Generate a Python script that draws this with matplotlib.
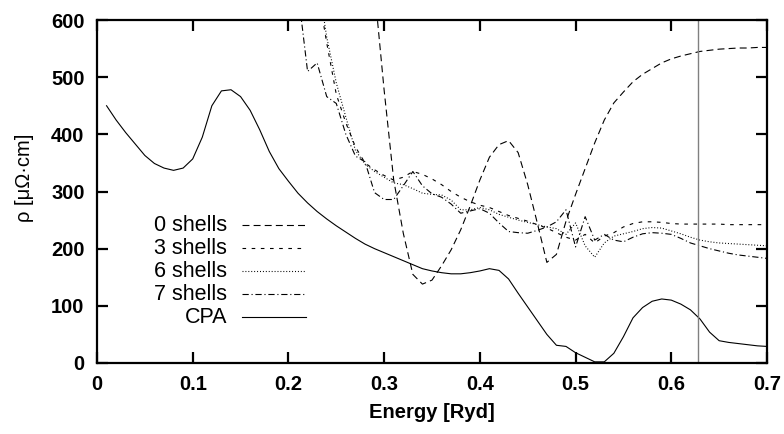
import numpy as np
import matplotlib.pyplot as plt

plt.rcParams['font.family'] = ['Liberation Sans', 'DejaVu Sans']
plt.rcParams['lines.scale_dashes'] = False

# energia en Ryd, paso de 0.01
e_cpa = np.round(np.arange(0.01, 0.705, 0.01), 2)
rho_cpa = [450, 425, 403, 383, 363, 349, 341, 337, 341, 357,
           395, 450, 476, 478, 466, 442, 408, 370, 340, 318,
           297, 280, 265, 252, 240, 229, 218, 208, 200, 193,
           186, 179, 172, 165, 161, 158, 156, 156, 158, 161,
           165, 162, 147, 122, 98, 74, 50, 31, 29, 18,
           10, 2, 2, 17, 46, 79, 97, 108, 112, 110,
           103, 93, 77, 54, 39, 36, 34, 32, 30, 29]

e_0 = np.round(np.arange(0.29, 0.705, 0.01), 2)
rho_0 = [653, 477, 320, 227, 155, 138, 145, 170, 198, 233,
         275, 320, 360, 382, 389, 368, 312, 245, 176, 190,
         248, 295, 340, 385, 425, 455, 474, 492, 505, 515,
         525, 532, 537, 541, 545, 547, 549, 550, 551, 551,
         552, 552]

e_3 = np.round(np.arange(0.23, 0.705, 0.01), 2)
rho_3 = [660, 560, 470, 420, 378, 350, 338, 328, 320, 325,
         335, 330, 322, 312, 300, 290, 282, 276, 272, 265,
         258, 253, 248, 242, 236, 228, 220, 215, 225, 210,
         222, 228, 238, 244, 247, 247, 246, 244, 243, 243,
         243, 243, 243, 242, 242, 242, 242, 242]

e_6 = np.round(np.arange(0.23, 0.705, 0.01), 2)
rho_6 = [680, 570, 490, 430, 372, 348, 335, 325, 315, 312,
         305, 297, 295, 294, 285, 268, 268, 272, 268, 260,
         255, 250, 246, 242, 238, 235, 225, 245, 205, 185,
         210, 222, 226, 230, 235, 237, 236, 231, 226, 220,
         215, 212, 210, 209, 208, 207, 206, 205]

e_7 = np.round(np.arange(0.21, 0.705, 0.01), 2)
rho_7 = [650, 510, 525, 466, 454, 400, 362, 352, 298, 286,
         286, 310, 335, 310, 296, 290, 278, 262, 266, 270,
         262, 245, 230, 228, 227, 232, 238, 247, 268, 203,
         256, 215, 225, 215, 212, 220, 226, 228, 227, 225,
         218, 210, 205, 200, 196, 192, 189, 187, 185, 183]

e_fermi = 0.628

series = [("0 shells", e_0, rho_0, (0, (5, 3))),
          ("3 shells", e_3, rho_3, (0, (2.6, 4))),
          ("6 shells", e_6, rho_6, (0, (0.7, 1.4))),
          ("7 shells", e_7, rho_7, (0, (4.5, 2, 0.8, 2))),
          ("CPA", e_cpa, rho_cpa, '-')]

x_ticks = [0, 0.1, 0.2, 0.3, 0.4, 0.5, 0.6, 0.7]
x_tick_labels = ["0", "0.1", "0.2", "0.3", "0.4", "0.5", "0.6", "0.7"]
y_ticks = [0, 100, 200, 300, 400, 500, 600]

fig = plt.figure(figsize=(7.84, 4.34), dpi=100)
ax = fig.add_axes([97/784, 1-363/434, 670/784, 343/434])

for nombre, e, rho, estilo in series:
    ax.plot(e, rho, color='black', lw=0.8, linestyle=estilo)

ax.axvline(e_fermi, color='#808080', lw=1.0)

# clave al estilo gnuplot: texto a la derecha alineado, muestra de linea despues
for i, (nombre, e, rho, estilo) in enumerate(series):
    yk = 0.402 - i * 0.067
    ax.text(0.194, yk, nombre, transform=ax.transAxes, ha='right', va='center',
            fontsize=15.5)
    ax.plot([0.2164, 0.312], [yk, yk], transform=ax.transAxes, color='black',
            lw=0.8, linestyle=estilo)

ax.set_xlim(0, 0.7)
ax.set_ylim(0, 600)
ax.set_xticks(x_ticks)
ax.set_xticklabels(x_tick_labels)
ax.set_yticks(y_ticks)
ax.tick_params(direction='in', length=8, width=1.6, top=True, right=True,
               labelsize=14.5, pad=9)
for lab in ax.get_xticklabels() + ax.get_yticklabels():
    lab.set_fontweight('bold')
for sp in ax.spines.values():
    sp.set_linewidth(1.6)

ax.set_xlabel('Energy [Ryd]', fontsize=14.5, fontweight='bold', labelpad=6)
ax.set_ylabel('ρ [μΩ·cm]', fontsize=14.5)
ax.yaxis.set_label_coords(-0.094, 0.541)

fig.savefig('out.png', dpi=100)
